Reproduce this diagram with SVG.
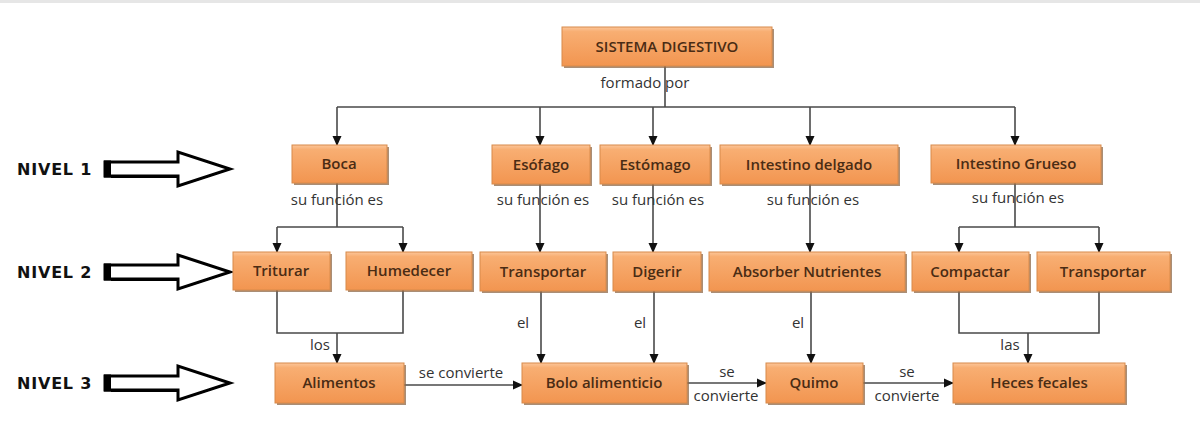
<svg xmlns="http://www.w3.org/2000/svg" width="1200" height="439" viewBox="0 0 1200 439">
<style>
.box{fill:url(#og);stroke:#d88a4a;stroke-width:1}
.sh{fill:#8e6848;opacity:0.75}
.bt{font-family:"Open Sans","Liberation Sans",sans-serif;font-weight:600;font-size:15px;fill:#4a2c14;text-anchor:middle}
.lb{font-family:"Open Sans","Liberation Sans",sans-serif;font-size:15px;fill:#333;text-anchor:middle}
.lv{font-family:"DejaVu Sans","Liberation Sans",sans-serif;font-weight:bold;font-size:16px;fill:#111;letter-spacing:0.8px}
.cn{fill:none;stroke:#4a4a4a;stroke-width:1.6}
.ar{fill:none;stroke:#000;stroke-width:3;stroke-linejoin:miter}
</style>
<defs>
<linearGradient id="og" x1="0" y1="0" x2="0" y2="1">
<stop offset="0" stop-color="#fcc69a"/>
<stop offset="0.12" stop-color="#f8ae72"/>
<stop offset="1" stop-color="#f29550"/>
</linearGradient>
<marker id="ah" markerWidth="10" markerHeight="10" refX="9" refY="5" orient="auto" markerUnits="userSpaceOnUse">
<path d="M0,0.5 L10,5 L0,9.5 Z" fill="#111"/>
</marker>
<g id="bigArrow">
<path class="ar" d="M0,-7 L73,-7 L73,-17 L125,0 L73,17 L73,7 L0,7 Z"/>
<rect x="-1" y="-8.5" width="7" height="17" fill="#000"/>
<path d="M6,8 L73,8" stroke="#000" stroke-width="2"/>
<path d="M73,17 L125,0" stroke="#000" stroke-width="1.5"/>
</g>
</defs>
<rect x="0" y="0" width="1200" height="3" fill="#e6e6e6"/>

<g id="levels">
<text class="lv" x="17" y="175">NIVEL 1</text>
<use href="#bigArrow" x="105" y="169"/>
<text class="lv" x="17" y="278">NIVEL 2</text>
<use href="#bigArrow" x="105" y="272"/>
<text class="lv" x="17" y="389">NIVEL 3</text>
<use href="#bigArrow" x="105" y="383"/>
</g>

<g id="connectors">
<path class="cn" d="M665,66 V107 M337,107 H1015"/>
<path class="cn" d="M337,107 V145" marker-end="url(#ah)"/>
<path class="cn" d="M540,107 V145" marker-end="url(#ah)"/>
<path class="cn" d="M653,107 V145" marker-end="url(#ah)"/>
<path class="cn" d="M810,107 V145" marker-end="url(#ah)"/>
<path class="cn" d="M1015,107 V145" marker-end="url(#ah)"/>
<path class="cn" d="M337,183 V227 M277,227 H403"/>
<path class="cn" d="M277,227 V252" marker-end="url(#ah)"/>
<path class="cn" d="M403,227 V252" marker-end="url(#ah)"/>
<path class="cn" d="M540,184 V252" marker-end="url(#ah)"/>
<path class="cn" d="M653,184 V252" marker-end="url(#ah)"/>
<path class="cn" d="M810,184 V252" marker-end="url(#ah)"/>
<path class="cn" d="M1015,183 V227 M959,227 H1099"/>
<path class="cn" d="M959,227 V252" marker-end="url(#ah)"/>
<path class="cn" d="M1099,227 V252" marker-end="url(#ah)"/>
<path class="cn" d="M277,290 V333 H403 V290"/>
<path class="cn" d="M337,333 V363" marker-end="url(#ah)"/>
<path class="cn" d="M541,291 V363" marker-end="url(#ah)"/>
<path class="cn" d="M654,291 V363" marker-end="url(#ah)"/>
<path class="cn" d="M811,291 V363" marker-end="url(#ah)"/>
<path class="cn" d="M959,291 V333 H1099 V291"/>
<path class="cn" d="M1028,333 V363" marker-end="url(#ah)"/>
<path class="cn" d="M404,385 H522" marker-end="url(#ah)"/>
<path class="cn" d="M687,383 H766" marker-end="url(#ah)"/>
<path class="cn" d="M863,383 H953" marker-end="url(#ah)"/>
</g>

<g id="labels">
<text class="lb" x="645" y="88">formado por</text>
<text class="lb" x="337" y="205">su función es</text>
<text class="lb" x="543" y="205">su función es</text>
<text class="lb" x="658" y="205">su función es</text>
<text class="lb" x="813" y="205">su función es</text>
<text class="lb" x="1018" y="203">su función es</text>
<text class="lb" x="320" y="350">los</text>
<text class="lb" x="1010" y="350">las</text>
<text class="lb" x="523" y="328">el</text>
<text class="lb" x="640" y="328">el</text>
<text class="lb" x="798" y="328">el</text>
<text class="lb" x="461" y="378">se convierte</text>
<text class="lb" x="727" y="377">se</text>
<text class="lb" x="726" y="401">convierte</text>
<text class="lb" x="907" y="377">se</text>
<text class="lb" x="907" y="401">convierte</text>
</g>

<g id="n-sistema"><rect class="sh" x="564" y="29" width="210" height="39"/><rect class="box" x="562" y="27" width="210" height="39"/><text class="bt" x="667" y="52">SISTEMA DIGESTIVO</text></g>
<g id="n-boca"><rect class="sh" x="294" y="147" width="95" height="38"/><rect class="box" x="292" y="145" width="95" height="38"/><text class="bt" x="339" y="169">Boca</text></g>
<g id="n-esofago"><rect class="sh" x="494" y="147" width="98" height="39"/><rect class="box" x="492" y="145" width="98" height="39"/><text class="bt" x="541" y="170">Esófago</text></g>
<g id="n-estomago"><rect class="sh" x="602" y="147" width="110" height="39"/><rect class="box" x="600" y="145" width="110" height="39"/><text class="bt" x="655" y="170">Estómago</text></g>
<g id="n-delgado"><rect class="sh" x="722" y="147" width="178" height="39"/><rect class="box" x="720" y="145" width="178" height="39"/><text class="bt" x="809" y="170">Intestino delgado</text></g>
<g id="n-grueso"><rect class="sh" x="933" y="147" width="170" height="38"/><rect class="box" x="931" y="145" width="170" height="38"/><text class="bt" x="1016" y="169">Intestino Grueso</text></g>

<g id="n-triturar"><rect class="sh" x="235" y="254" width="97" height="38"/><rect class="box" x="233" y="252" width="97" height="38"/><text class="bt" x="281" y="276">Triturar</text></g>
<g id="n-humedecer"><rect class="sh" x="348" y="254" width="126" height="38"/><rect class="box" x="346" y="252" width="126" height="38"/><text class="bt" x="409" y="276">Humedecer</text></g>
<g id="n-transportar1"><rect class="sh" x="482" y="254" width="126" height="39"/><rect class="box" x="480" y="252" width="126" height="39"/><text class="bt" x="543" y="277">Transportar</text></g>
<g id="n-digerir"><rect class="sh" x="615" y="254" width="88" height="39"/><rect class="box" x="613" y="252" width="88" height="39"/><text class="bt" x="657" y="277">Digerir</text></g>
<g id="n-absorber"><rect class="sh" x="711" y="254" width="196" height="39"/><rect class="box" x="709" y="252" width="196" height="39"/><text class="bt" x="807" y="277">Absorber Nutrientes</text></g>
<g id="n-compactar"><rect class="sh" x="914" y="254" width="117" height="39"/><rect class="box" x="912" y="252" width="117" height="39"/><text class="bt" x="970" y="277">Compactar</text></g>
<g id="n-transportar2"><rect class="sh" x="1039" y="254" width="133" height="39"/><rect class="box" x="1037" y="252" width="133" height="39"/><text class="bt" x="1103" y="277">Transportar</text></g>

<g id="n-alimentos"><rect class="sh" x="277" y="365" width="129" height="40"/><rect class="box" x="275" y="363" width="129" height="40"/><text class="bt" x="339" y="388">Alimentos</text></g>
<g id="n-bolo"><rect class="sh" x="524" y="365" width="165" height="40"/><rect class="box" x="522" y="363" width="165" height="40"/><text class="bt" x="604" y="388">Bolo alimenticio</text></g>
<g id="n-quimo"><rect class="sh" x="768" y="365" width="97" height="40"/><rect class="box" x="766" y="363" width="97" height="40"/><text class="bt" x="814" y="388">Quimo</text></g>
<g id="n-heces"><rect class="sh" x="955" y="365" width="172" height="40"/><rect class="box" x="953" y="363" width="172" height="40"/><text class="bt" x="1039" y="388">Heces fecales</text></g>
</svg>
